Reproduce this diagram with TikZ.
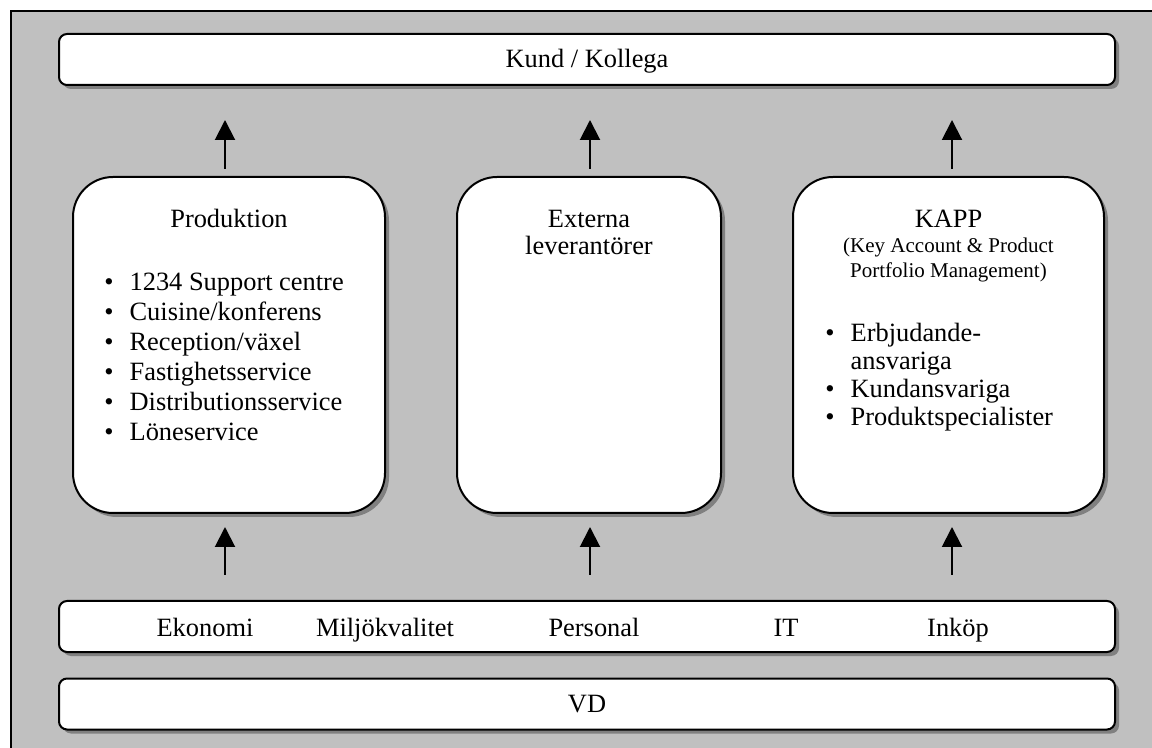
\documentclass[tikz,border=0pt]{standalone}
\usepackage{fontspec}
\setmainfont{Liberation Serif}
\usetikzlibrary{arrows.meta,shadows}
\definecolor{panelgray}{HTML}{C0C0C0}
\definecolor{shadegray}{HTML}{808080}
\begin{document}
\begin{tikzpicture}[x=0.5pt,y=-0.5pt,
  bar/.style={draw, line width=1pt, fill=white, rounded corners=4pt,
    minimum width=528pt, minimum height=25.5pt, inner sep=0pt,
    drop shadow={shadow xshift=2pt, shadow yshift=-2pt, fill=shadegray, opacity=1}},
  unit/.style={bar, rounded corners=20pt, minimum height=168pt},
  lbl/.style={anchor=base, inner sep=0pt, font=\fontsize{13.2}{14}\selectfont},
  small/.style={anchor=base, inner sep=0pt, font=\fontsize{10.5}{12.5}\selectfont},
  listing/.style={anchor=base west, inner sep=0pt},
  arr/.style={-{Triangle[width=10pt,length=10pt]}, line width=1pt}]
\clip (0,0) rectangle (1152,748);
% grey panel behind everything
\draw[line width=0.75pt, fill=panelgray] (11,11) rectangle (1170,770);

% boxes
\node[bar] (kund) at (587,59.5) {};
\node[unit, minimum width=156pt] (prod) at (229,345) {};
\node[unit, minimum width=132pt] (ext) at (589,345) {};
\node[unit, minimum width=155.5pt] (kapp) at (948.5,345) {};
\node[bar] (func) at (587,626.5) {};
\node[bar] (vd) at (587,704) {};

% top bar
\node[lbl] (kundtxt) at (587,68) {Kund / Kollega};

% Produktion
\node[lbl] (prodtitle) at (229,228) {Produktion};
\node[listing, font=\fontsize{13.2}{15}\selectfont] (prodlist) at (104,291) {%
  \begin{tabular}[t]{@{}l@{\hspace{8pt}}l@{}}
  \textbullet & 1234 Support centre\\
  \textbullet & Cuisine/konferens\\
  \textbullet & Reception/växel\\
  \textbullet & Fastighetsservice\\
  \textbullet & Distributionsservice\\
  \textbullet & Löneservice
  \end{tabular}};

% Externa leverantörer
\node[lbl] (exttitle) at (589,228) {Externa};
\node[lbl] (extsub) at (589,255) {leverantörer};

% KAPP
\node[lbl] (kapptitle) at (948.5,228) {KAPP};
\node[small] (kappsub1) at (948.5,253) {(Key Account \& Product};
\node[small] (kappsub2) at (948.5,278) {Portfolio Management)};
\node[listing, font=\fontsize{13.2}{14}\selectfont] (kapplist) at (825,342) {%
  \begin{tabular}[t]{@{}l@{\hspace{8pt}}l@{}}
  \textbullet & Erbjudande-\\
              & ansvariga\\
  \textbullet & Kundansvariga\\
  \textbullet & Produktspecialister
  \end{tabular}};

% support functions
\node[lbl] (eko) at (205,637) {Ekonomi};
\node[lbl] (milj) at (385,637) {Miljökvalitet};
\node[lbl] (pers) at (594,637) {Personal};
\node[lbl] (it) at (786,637) {IT};
\node[lbl] (inkop) at (958,637) {Inköp};

% VD
\node[lbl] (vdtxt) at (587,712) {VD};

% arrows up to the customer
\draw[arr, shorten <=3.5pt, shorten >=17pt] ([xshift=-2pt]prod.north) -- ([xshift=-2pt]prod.north |- kund.south);
\draw[arr, shorten <=3.5pt, shorten >=17pt] ([xshift=0.5pt]ext.north) -- ([xshift=0.5pt]ext.north |- kund.south);
\draw[arr, shorten <=3.5pt, shorten >=17pt] ([xshift=1.75pt]kapp.north) -- ([xshift=1.75pt]kapp.north |- kund.south);

% arrows up from the support functions
\draw[arr, shorten <=12.5pt, shorten >=6.5pt] ([xshift=-2pt]prod.south |- func.north) -- ([xshift=-2pt]prod.south);
\draw[arr, shorten <=12.5pt, shorten >=6.5pt] ([xshift=0.5pt]ext.south |- func.north) -- ([xshift=0.5pt]ext.south);
\draw[arr, shorten <=12.5pt, shorten >=6.5pt] ([xshift=1.75pt]kapp.south |- func.north) -- ([xshift=1.75pt]kapp.south);
\end{tikzpicture}
\end{document}
